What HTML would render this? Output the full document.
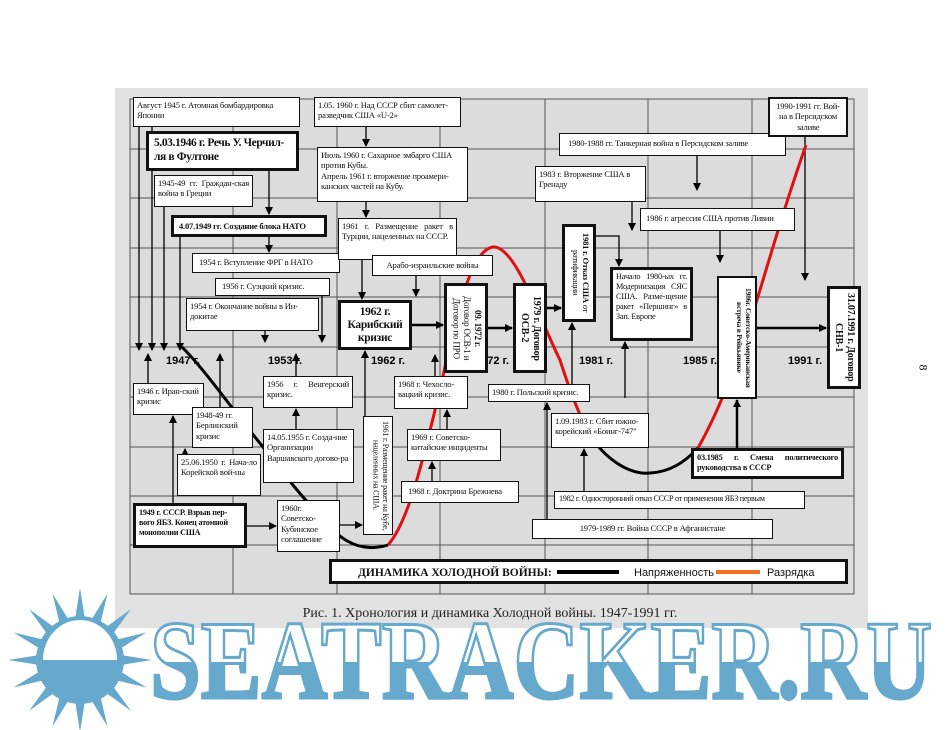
<!DOCTYPE html>
<html><head><meta charset="utf-8"><style>
body{margin:0;width:945px;height:730px;background:#fff;position:relative;overflow:hidden;font-family:"Liberation Serif",serif}
.b{position:absolute;background:#fff;border:1.5px solid #111;box-sizing:border-box;font-size:8.6px;letter-spacing:-0.2px;line-height:1.2;padding:2px 3px;color:#111;overflow:hidden}
.k{border-width:3px;font-weight:bold}
.v{writing-mode:vertical-rl;text-align:center;padding:3px 2px}
.y{position:absolute;font:bold 11px "Liberation Sans",sans-serif;top:355px}
.j{text-align:justify}
</style></head><body>
<svg width="945" height="730" style="position:absolute;left:0;top:0">
<rect x="115" y="88" width="753" height="540" fill="#e2e2e2"/>
<rect x="130" y="99" width="724" height="495" fill="#dcdcdc" stroke="#555" stroke-width="1"/>
<g stroke="#555" stroke-width="1">
<line x1="233" y1="99" x2="233" y2="594"/><line x1="337" y1="99" x2="337" y2="594"/><line x1="440" y1="99" x2="440" y2="594"/><line x1="545" y1="99" x2="545" y2="594"/><line x1="648" y1="99" x2="648" y2="594"/><line x1="752" y1="99" x2="752" y2="594"/>
<line x1="130" y1="149" x2="854" y2="149"/><line x1="130" y1="198" x2="854" y2="198"/><line x1="130" y1="248" x2="854" y2="248"/><line x1="130" y1="297" x2="854" y2="297"/><line x1="130" y1="347" x2="854" y2="347"/><line x1="130" y1="397" x2="854" y2="397"/><line x1="130" y1="447" x2="854" y2="447"/><line x1="130" y1="496" x2="854" y2="496"/><line x1="130" y1="545" x2="854" y2="545"/>
</g>
<defs><marker id="a" markerWidth="8" markerHeight="8" refX="7" refY="4" orient="auto" markerUnits="userSpaceOnUse"><path d="M0,0 L8,4 L0,8 z" fill="#000"/></marker></defs>
<g stroke="#000" stroke-width="1.3" fill="none" marker-end="url(#a)">
<line x1="139" y1="127" x2="139" y2="350"/><line x1="152" y1="127" x2="152" y2="350"/><line x1="164" y1="207" x2="164" y2="350"/><line x1="180" y1="237" x2="180" y2="350"/>
<line x1="269" y1="171" x2="269" y2="214"/><line x1="269" y1="237" x2="269" y2="252"/>
<line x1="265" y1="331" x2="265" y2="342"/><line x1="322" y1="295" x2="322" y2="342"/>
<line x1="366" y1="127" x2="366" y2="146"/><line x1="366" y1="202" x2="366" y2="217"/><line x1="362" y1="260" x2="362" y2="299"/><line x1="416" y1="276" x2="416" y2="296"/>
<line x1="632" y1="202" x2="632" y2="230"/><line x1="697" y1="156" x2="697" y2="190"/><line x1="720" y1="231" x2="720" y2="262"/><line x1="805" y1="137" x2="805" y2="280"/>
<polyline points="596,236 619,236 619,266"/>
<line x1="148" y1="383" x2="148" y2="354"/><line x1="220" y1="407" x2="220" y2="354"/><line x1="296" y1="376" x2="296" y2="354"/><line x1="435" y1="376" x2="435" y2="355"/>
<line x1="365" y1="416" x2="365" y2="351"/><line x1="296" y1="429" x2="296" y2="409"/>
<line x1="173" y1="503" x2="173" y2="416"/><line x1="185" y1="454" x2="185" y2="449"/>
<line x1="247" y1="526" x2="276" y2="526"/><line x1="340" y1="525" x2="362" y2="525"/>
<line x1="447" y1="429" x2="447" y2="410"/><line x1="432" y1="481" x2="432" y2="462"/>
<line x1="547" y1="519" x2="547" y2="403"/><line x1="584" y1="491" x2="584" y2="449"/>
<line x1="572" y1="384" x2="572" y2="323"/><line x1="625" y1="398" x2="625" y2="342"/>
</g>
<g stroke="#000" stroke-width="2.5" fill="none" marker-end="url(#a)">
<line x1="412" y1="325" x2="443" y2="325"/><line x1="488" y1="328" x2="512" y2="328"/><line x1="547" y1="308" x2="561" y2="308"/><line x1="757" y1="328" x2="826" y2="328"/><line x1="737" y1="448" x2="737" y2="400"/>
</g>
<path d="M182,347 C205,370 225,400 263,447 C285,475 300,495 315,510 C335,535 355,555 388,545" stroke="#000" stroke-width="3" fill="none"/>
<path d="M388,545 C410,520 425,450 440,390 C455,320 470,250 493,247 C515,245 540,320 560,360 C568,385 575,405 588,432" stroke="#e01010" stroke-width="3" fill="none"/>
<path d="M588,432 C605,460 630,475 650,473 C670,472 685,462 698,448" stroke="#000" stroke-width="3" fill="none"/>
<path d="M698,448 C725,400 745,340 760,290 C775,240 790,190 806,145" stroke="#e01010" stroke-width="3" fill="none"/>
<g fill="#67a9cc">
<g transform="translate(80,660)">
<polygon points="-7,-28 0,-72 7,-28"/><polygon transform="rotate(22.5)" points="-7,-28 0,-72 7,-28"/><polygon transform="rotate(45)" points="-7,-28 0,-72 7,-28"/><polygon transform="rotate(67.5)" points="-7,-28 0,-72 7,-28"/><polygon transform="rotate(90)" points="-7,-28 0,-72 7,-28"/><polygon transform="rotate(112.5)" points="-7,-28 0,-72 7,-28"/><polygon transform="rotate(135)" points="-7,-28 0,-72 7,-28"/><polygon transform="rotate(157.5)" points="-7,-28 0,-72 7,-28"/><polygon transform="rotate(180)" points="-7,-28 0,-72 7,-28"/><polygon transform="rotate(202.5)" points="-7,-28 0,-72 7,-28"/><polygon transform="rotate(225)" points="-7,-28 0,-72 7,-28"/><polygon transform="rotate(247.5)" points="-7,-28 0,-72 7,-28"/><polygon transform="rotate(270)" points="-7,-28 0,-72 7,-28"/><polygon transform="rotate(292.5)" points="-7,-28 0,-72 7,-28"/><polygon transform="rotate(315)" points="-7,-28 0,-72 7,-28"/><polygon transform="rotate(337.5)" points="-7,-28 0,-72 7,-28"/>
<circle r="44"/>
<path d="M-37,0 A37,40 0 0 1 37,0 z" fill="#fff"/>
</g>
</g>
<defs><clipPath id="bot"><rect x="140" y="662" width="800" height="60"/></clipPath><clipPath id="top"><rect x="140" y="600" width="800" height="62"/></clipPath></defs>
<text x="150" y="698" font-family="Liberation Serif" font-weight="bold" font-size="112" textLength="782" lengthAdjust="spacingAndGlyphs" fill="#fff" stroke="#67a9cc" stroke-width="3" clip-path="url(#top)">SEATRACKER.RU</text>
<text x="150" y="698" font-family="Liberation Serif" font-weight="bold" font-size="112" textLength="782" lengthAdjust="spacingAndGlyphs" fill="#67a9cc" stroke="#67a9cc" stroke-width="3" clip-path="url(#bot)">SEATRACKER.RU</text>
<text x="490" y="617" text-anchor="middle" font-family="Liberation Serif" font-size="14" fill="#222">Рис. 1. Хронология и динамика Холодной войны. 1947-1991 гг.</text>
</svg>

<div class="y" style="left:166px">1947 г.</div><div class="y" style="left:268px">1953 г.</div><div class="y" style="left:371px">1962 г.</div><div class="y" style="left:475px">1972 г.</div><div class="y" style="left:579px">1981 г.</div><div class="y" style="left:683px">1985 г.</div><div class="y" style="left:788px">1991 г.</div>

<div class="b" style="left:133px;top:97px;width:167px;height:30px">Август 1945 г. Атомная бомбардировка Японии</div>
<div class="b k" style="left:146px;top:131px;width:153px;height:40px;font-size:11.5px;letter-spacing:-0.4px;padding:3px 5px">5.03.1946 г. Речь У. Черчил-ля в Фултоне</div>
<div class="b j" style="left:154px;top:175px;width:99px;height:32px">1945-49 гг. Граждан-ская война в Греции</div>
<div class="b k" style="left:171px;top:215px;width:156px;height:22px;font-size:8.5px;padding:3px 5px">4.07.1949 гг. Создание блока НАТО</div>
<div class="b" style="left:192px;top:253px;width:148px;height:20px;padding:3px 6px">1954 г. Вступление ФРГ в НАТО</div>
<div class="b" style="left:215px;top:278px;width:115px;height:18px;padding:2px 6px">1956 г. Суэцкий кризис.</div>
<div class="b" style="left:186px;top:298px;width:133px;height:33px">1954 г. Окончание войны в Ин-докитае</div>
<div class="b" style="left:314px;top:97px;width:147px;height:30px">1.05. 1960 г. Над СССР сбит самолет-разведчик США «U-2»</div>
<div class="b" style="left:317px;top:147px;width:151px;height:55px">Июль 1960 г. Сахарное эмбарго США против Кубы.<br>Апрель 1961 г. вторжение проамери-канских частей на Кубу.</div>
<div class="b j" style="left:338px;top:218px;width:119px;height:42px">1961 г. Размещение ракет в Турции, нацеленных на СССР.</div>
<div class="b" style="left:372px;top:255px;width:121px;height:21px;text-align:center;padding-top:4px">Арабо-израильские войны</div>
<div class="b k" style="left:338px;top:300px;width:74px;height:50px;font-size:11.5px;letter-spacing:-0.3px;text-align:center;line-height:1.12;padding:3px 1px">1962 г.<br>Карибский<br>кризис</div>
<div class="b k v" style="left:444px;top:283px;width:44px;height:90px;font-size:9px">09. 1972 г.<br><span style="font-weight:normal">Договор ОСВ-1 и Договор по ПРО</span></div>
<div class="b k v" style="left:513px;top:283px;width:34px;height:90px;font-size:10px">1979 г. Договор ОСВ-2</div>
<div class="b k v" style="left:562px;top:224px;width:34px;height:98px;font-size:8.5px">1981 г. Отказ США <span style="font-weight:normal">от ратификации</span></div>
<div class="b" style="left:535px;top:166px;width:111px;height:36px">1983 г. Вторжение США в Гренаду</div>
<div class="b" style="left:559px;top:133px;width:227px;height:23px;padding:4px 8px">1980-1988 гг. Танкерная война в Персидском заливе</div>
<div class="b k" style="left:768px;top:97px;width:80px;height:40px;font-weight:normal;border-width:2px;text-align:center">1990-1991 гг. Вой-на в Персидском заливе</div>
<div class="b" style="left:640px;top:208px;width:155px;height:23px;padding:4px 5px">1986 г. агрессия США против Ливии</div>
<div class="b k j" style="left:610px;top:267px;width:83px;height:74px;font-weight:normal;font-size:8.3px">Начало 1980-ых гг. Модернизация СЯС США. Разме-щение ракет «Першинг» в Зап. Европе</div>
<div class="b v" style="left:717px;top:276px;width:40px;height:123px;font-weight:bold;font-size:7.5px;border-width:2px">1986г. Советско-Американская встреча в Рейкьявике</div>
<div class="b k v" style="left:827px;top:286px;width:34px;height:103px;font-size:10px">31.07.1991 г. Договор СНВ-1</div>

<div class="b" style="left:133px;top:383px;width:71px;height:32px">1946 г. Иран-ский кризис</div>
<div class="b" style="left:192px;top:407px;width:61px;height:41px">1948-49 гг. Берлинский кризис</div>
<div class="b j" style="left:177px;top:454px;width:84px;height:42px">25.06.1950 г. Нача-ло Корейской вой-ны</div>
<div class="b k" style="left:133px;top:503px;width:114px;height:45px;font-size:8.2px">1949 г. СССР. Взрыв пер-вого ЯБЗ. Конец атомной монополии США</div>
<div class="b j" style="left:263px;top:376px;width:90px;height:32px">1956 г. Венгерский кризис.</div>
<div class="b" style="left:263px;top:429px;width:91px;height:54px">14.05.1955 г. Созда-ние Организации Варшавского догово-ра</div>
<div class="b" style="left:277px;top:500px;width:63px;height:52px">1960г. Советско-Кубинское соглашение</div>
<div class="b v" style="left:363px;top:416px;width:30px;height:119px;font-size:8px">1961 г. Размещение ракет на Кубе, нацеленных на США.</div>
<div class="b" style="left:394px;top:376px;width:74px;height:33px">1968 г. Чехосло-вацкий кризис.</div>
<div class="b" style="left:407px;top:429px;width:94px;height:32px">1969 г. Советско-китайские инциденты</div>
<div class="b" style="left:401px;top:481px;width:118px;height:22px;padding:4px 6px">1968 г. Доктрина Брежнева</div>
<div class="b" style="left:488px;top:384px;width:102px;height:18px">1980 г. Польский кризис.</div>
<div class="b" style="left:551px;top:413px;width:98px;height:35px">1.09.1983 г. Сбит южно-корейский «Боинг-747"</div>
<div class="b k j" style="left:691px;top:448px;width:153px;height:31px;font-size:8.3px">03.1985 г. Смена политического руководства в СССР</div>
<div class="b" style="left:554px;top:491px;width:251px;height:18px;padding:2px 4px;font-size:8.2px;letter-spacing:-0.3px">1982 г. Односторонний отказ СССР от применения ЯБЗ первым</div>
<div class="b" style="left:532px;top:519px;width:241px;height:20px;text-align:center;padding-top:3px">1979-1989 гг. Война СССР в Афганистане</div>

<div class="b k" style="left:329px;top:559px;width:519px;height:25px;font-weight:normal;padding:0;letter-spacing:0">
<span style="position:absolute;left:26px;top:5px;font-weight:bold;font-size:11.5px">ДИНАМИКА ХОЛОДНОЙ ВОЙНЫ:</span>
<span style="position:absolute;left:225px;top:8px;width:62px;height:4px;background:#000"></span>
<span style="position:absolute;left:302px;top:5px;font-size:11px;font-family:'Liberation Sans',sans-serif">Напряженность</span>
<span style="position:absolute;left:384px;top:8px;width:44px;height:4px;background:#f07020"></span>
<span style="position:absolute;left:435px;top:5px;font-size:11px;font-family:'Liberation Sans',sans-serif">Разрядка</span>
</div>
<div style="position:absolute;left:920px;top:360px;font-size:12px;transform:rotate(90deg)">8</div>
</body></html>
